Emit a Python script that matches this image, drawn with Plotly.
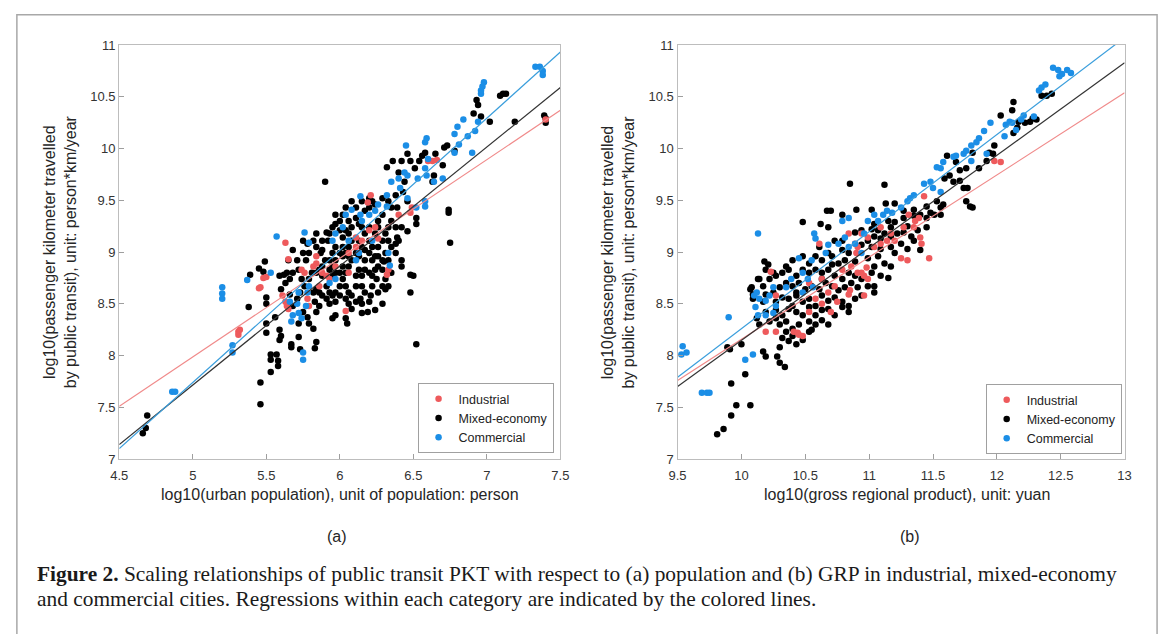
import plotly.graph_objects as go

# ---------------- data ----------------
# Panel (a): x = log10(urban population), y = log10(PKT)
a_industrial = [
    (5.31, 8.23), (5.31, 8.20), (5.32, 8.25), (5.46, 8.66), (5.45, 8.65), (5.48, 8.75),
    (5.50, 8.76), (5.63, 9.09), (5.65, 8.93), (5.61, 8.58), (5.63, 8.52), (5.64, 8.48),
    (5.65, 8.45), (5.74, 8.83), (5.76, 8.80), (5.82, 8.86), (5.84, 8.89), (5.88, 8.80),
    (5.91, 8.77), (5.97, 8.86), (6.04, 8.43), (6.06, 8.99), (6.11, 9.05), (6.15, 9.11),
    (6.20, 9.21), (6.21, 9.55), (6.19, 9.48), (6.24, 9.24), (6.26, 9.13), (6.33, 8.83),
    (6.32, 8.78), (6.40, 9.36), (6.48, 9.38), (6.49, 9.43), (6.60, 9.88), (6.63, 9.88),
    (6.66, 9.89), (7.40, 10.28), (5.78, 8.55), (5.79, 8.48), (5.86, 8.67), (5.93, 8.74),
    (5.84, 8.96), (6.06, 8.80), (6.11, 9.14),
]
a_mixed = [
    (4.66, 7.25), (4.68, 7.30), (4.69, 7.42), (5.46, 7.53), (5.46, 7.74), (5.53, 7.84),
    (5.53, 7.96), (5.53, 8.01), (5.57, 8.01), (5.58, 7.95), (5.58, 7.90), (5.38, 8.47),
    (5.39, 8.78), (5.45, 8.84), (5.49, 8.91), (5.48, 8.81), (5.50, 8.56), (5.50, 8.50),
    (5.50, 8.31), (5.50, 8.22), (5.56, 8.37), (5.59, 8.25), (5.60, 8.19), (5.59, 8.15),
    (5.67, 8.11), (5.67, 8.08), (5.73, 8.06), (5.84, 8.13), (5.83, 8.07), (5.82, 8.26),
    (5.79, 8.31), (5.72, 8.18), (5.72, 8.31), (5.90, 9.68), (6.52, 8.11), (6.74, 9.41),
    (6.74, 9.38), (6.75, 9.09), (6.48, 8.78), (6.50, 8.77), (6.48, 8.61), (6.42, 8.86),
    (7.02, 10.26), (7.19, 10.26), (7.09, 10.51), (7.11, 10.53), (7.13, 10.53), (6.93, 10.47),
    (6.94, 10.42), (6.91, 10.34), (6.96, 10.31), (7.39, 10.32), (7.40, 10.29), (7.40, 10.25),
    (6.73, 10.03), (6.71, 10.01), (6.78, 9.98), (6.65, 9.95), (6.58, 9.96), (6.56, 9.93),
    (6.46, 9.95), (6.48, 9.88), (6.42, 9.88), (6.36, 9.88), (6.32, 9.82), (6.40, 9.77),
    (6.44, 9.68), (6.51, 9.81), (6.54, 9.88), (6.70, 9.84), (6.63, 9.68), (6.64, 9.74),
    (6.43, 9.58), (6.52, 9.33), (6.52, 9.27), (6.46, 9.20), (6.46, 9.49), (6.42, 8.92),
    (6.29, 8.50), (6.24, 8.44), (6.19, 8.42), (6.15, 8.41), (6.08, 8.45), (6.05, 8.31),
    (6.04, 8.36), (5.95, 8.36), (5.97, 8.39), (6.14, 8.55), (6.21, 8.58), (6.26, 8.61),
    (6.22, 8.67), (6.29, 8.67), (6.31, 8.74), (6.35, 8.80), (5.84, 9.18), (5.83, 8.52),
    (5.86, 8.48), (5.84, 8.42), (5.78, 8.37), (5.75, 8.42), (5.66, 8.59), (5.60, 8.64),
    (5.59, 8.77), (5.62, 8.78), (5.63, 8.70), (5.68, 8.80), (5.68, 9.02), (5.71, 8.92),
    (5.74, 8.74), (5.77, 8.92), (5.79, 8.99), (5.81, 8.80), (5.84, 9.05), (5.87, 8.99),
    (5.88, 9.11), (5.91, 9.19), (5.93, 9.18), (5.95, 8.99), (5.97, 8.92), (5.93, 8.92),
    (5.90, 8.92), (5.88, 8.86), (5.93, 8.83), (5.91, 8.67), (5.93, 8.61), (5.95, 8.58),
    (5.97, 8.61), (6.00, 8.67), (6.02, 8.74), (6.04, 8.80), (6.04, 8.67), (6.06, 8.61),
    (6.08, 8.58), (6.11, 8.67), (6.11, 8.77), (6.13, 8.83), (6.15, 8.77), (6.17, 8.83),
    (6.20, 8.80), (6.15, 8.67), (6.17, 8.61), (6.22, 8.77), (6.24, 8.83), (6.26, 8.86),
    (6.29, 8.83), (6.24, 8.96), (6.20, 8.99), (6.17, 8.92), (6.13, 8.96), (6.08, 8.92),
    (6.06, 8.86), (6.02, 8.86), (6.00, 8.80), (5.97, 8.80), (5.95, 8.77), (6.00, 8.99),
    (6.02, 9.05), (6.04, 8.99), (6.06, 9.05), (6.08, 9.11), (6.06, 9.18), (6.02, 9.14),
    (6.00, 9.21), (5.97, 9.27), (6.00, 9.30), (6.02, 9.36), (6.06, 9.30), (6.11, 9.43),
    (6.11, 9.33), (6.15, 9.24), (6.17, 9.18), (6.20, 9.11), (6.22, 9.05), (6.26, 9.05),
    (6.29, 9.11), (6.31, 9.18), (6.33, 9.24), (6.35, 9.30), (6.38, 9.24), (6.39, 9.14),
    (6.38, 9.08), (6.35, 9.05), (6.33, 9.11), (6.38, 8.99), (6.39, 9.43), (6.35, 9.43),
    (6.29, 9.36), (6.26, 9.30), (6.24, 9.46), (6.29, 9.52), (6.22, 9.49), (6.20, 9.43),
    (6.17, 9.40), (6.13, 9.27), (6.08, 9.24), (6.04, 9.21), (6.24, 9.18), (6.20, 9.24),
    (6.26, 9.24), (6.31, 8.99), (6.33, 8.92), (6.30, 8.91), (6.25, 8.74), (6.20, 8.52),
    (6.15, 8.50), (6.11, 8.52), (6.06, 8.50), (6.04, 8.55), (6.00, 8.58), (5.97, 8.52),
    (5.93, 8.50), (5.91, 8.55), (5.88, 8.58), (5.86, 8.61), (5.84, 8.64), (5.82, 8.61),
    (5.79, 8.74), (5.76, 8.67), (5.73, 8.61), (5.71, 8.55), (5.68, 8.48), (5.66, 8.74),
    (5.64, 8.80), (5.65, 8.92), (5.72, 8.83), (5.75, 8.99), (5.78, 9.08), (5.92, 9.11),
    (5.95, 9.24), (5.97, 9.36), (6.04, 9.43), (6.08, 9.49), (6.15, 9.49), (6.20, 9.52),
    (6.33, 9.49), (6.38, 9.55), (6.42, 9.24), (6.40, 9.11), (5.88, 9.02), (5.82, 9.11),
    (5.75, 9.11), (5.88, 8.77), (5.86, 8.83), (5.84, 8.80), (5.97, 9.05), (5.95, 8.86),
    (6.13, 9.11), (6.15, 9.05), (6.17, 9.02), (6.11, 8.99), (6.06, 8.96), (6.02, 8.96),
    (6.22, 8.92), (6.26, 8.96), (6.29, 8.92), (6.31, 8.64), (6.33, 8.67),
]
a_commercial = [
    (5.20, 8.66), (5.20, 8.60), (5.20, 8.55), (4.86, 7.65), (4.88, 7.65), (5.27, 8.10),
    (5.27, 8.03), (5.37, 8.73), (5.57, 9.15), (5.76, 9.19), (5.79, 9.09), (5.75, 8.03),
    (5.75, 7.96), (5.53, 8.80), (5.67, 8.33), (5.68, 8.39), (5.72, 8.41), (5.74, 8.36),
    (5.71, 8.50), (5.66, 8.52), (5.79, 8.67), (5.78, 8.61), (5.93, 8.70), (5.97, 8.74),
    (6.04, 9.36), (6.08, 9.41), (6.14, 9.54), (6.15, 9.30), (6.20, 9.36), (6.24, 9.40),
    (6.26, 9.46), (6.32, 9.55), (6.35, 9.68), (6.40, 9.71), (6.41, 9.62), (6.44, 9.77),
    (6.46, 9.74), (6.45, 10.03), (6.53, 9.71), (6.58, 9.81), (6.59, 9.74), (6.60, 9.90),
    (6.58, 10.06), (6.59, 10.10), (6.64, 9.68), (6.70, 9.71), (6.78, 9.96), (6.78, 10.14),
    (6.80, 10.21), (6.84, 10.28), (6.81, 10.04), (6.87, 10.12), (6.90, 9.96), (6.92, 10.17),
    (6.94, 10.26), (6.96, 10.56), (6.97, 10.60), (6.98, 10.64), (6.96, 10.53), (7.33, 10.79),
    (7.36, 10.79), (7.38, 10.75), (7.38, 10.71), (6.33, 8.99), (6.34, 8.87), (6.46, 9.52),
    (6.52, 9.43), (6.58, 9.49), (6.58, 9.44), (5.95, 9.11), (5.97, 9.18), (6.02, 9.24),
    (6.06, 9.11), (6.11, 8.92), (6.13, 8.99), (5.77, 8.48), (5.72, 8.61), (6.14, 9.36),
    (6.32, 9.44), (6.22, 9.11),
]

# Panel (b): x = log10(gross regional product), y = log10(PKT)
b_industrial = [
    (10.19, 8.23), (10.27, 8.23), (10.41, 8.23), (10.44, 8.22), (10.48, 8.19), (10.45, 8.20),
    (10.23, 8.81), (10.27, 8.58), (10.53, 8.42), (10.58, 8.55), (10.63, 8.50), (10.70, 8.42),
    (10.75, 8.52), (10.84, 8.59), (10.85, 8.63), (10.91, 8.80), (10.94, 8.80), (10.96, 8.77),
    (10.99, 8.74), (10.98, 8.85), (10.96, 8.58), (10.79, 8.83), (10.86, 8.86), (10.90, 8.99),
    (10.89, 9.08), (10.91, 9.05), (10.94, 9.18), (10.84, 9.18), (11.04, 9.05), (11.09, 9.08),
    (11.14, 9.11), (11.20, 9.11), (11.25, 8.94), (11.30, 8.92), (11.36, 9.30), (11.39, 9.33),
    (11.40, 9.14), (11.41, 9.08), (11.43, 9.54), (11.47, 8.94), (11.31, 9.36), (11.35, 9.24),
    (11.98, 9.88), (12.03, 9.87), (10.61, 9.08), (10.63, 8.74), (10.68, 8.61), (10.73, 8.67),
    (10.53, 8.70), (11.09, 9.24), (11.17, 9.18), (11.27, 9.24), (10.99, 9.14),
]
b_mixed = [
    (9.81, 7.24), (9.86, 7.29), (9.92, 7.42), (9.96, 7.52), (10.07, 7.52), (9.92, 7.73),
    (10.03, 7.82), (9.89, 8.08), (9.91, 8.06), (10.00, 8.11), (10.17, 8.04), (10.19, 7.99),
    (10.28, 7.99), (10.30, 7.93), (10.34, 7.89), (10.13, 8.74), (10.08, 8.66), (10.09, 8.59),
    (10.18, 8.91), (10.21, 8.88), (10.25, 8.80), (10.48, 9.29), (10.62, 9.27), (10.68, 9.24),
    (10.67, 9.40), (10.70, 9.40), (10.79, 9.36), (10.85, 9.66), (10.90, 9.41), (11.02, 9.41),
    (11.12, 9.65), (11.13, 9.47), (11.20, 9.47), (11.76, 9.49), (11.79, 9.44), (11.81, 9.43),
    (11.74, 9.62), (11.77, 9.62), (11.98, 10.03), (11.97, 9.95), (12.03, 10.32), (12.13, 10.45),
    (12.12, 10.37), (12.17, 10.26), (12.22, 10.25), (12.26, 10.26), (12.28, 10.29), (12.31, 10.28),
    (12.35, 10.51), (12.39, 10.51), (12.43, 10.53), (12.13, 10.15), (12.16, 10.20), (11.61, 9.93),
    (11.68, 9.87), (11.71, 9.79), (11.76, 9.81), (11.71, 9.69), (11.81, 9.96), (11.86, 9.81),
    (11.92, 9.88), (11.94, 9.96), (11.63, 9.74), (11.59, 9.71), (11.66, 9.68),
    (11.27, 9.40), (11.35, 9.41), (11.45, 9.44), (11.53, 9.49), (11.56, 9.43), (11.58, 9.46),
    (11.48, 9.38), (11.40, 9.36), (11.04, 9.27), (11.15, 9.30), (11.20, 9.29), (11.27, 9.33),
    (11.35, 9.35), (11.45, 9.33), (11.51, 9.36), (11.56, 9.36), (11.17, 9.24), (11.30, 9.25),
    (10.89, 9.19), (10.94, 9.21), (11.02, 9.22), (11.07, 9.21), (11.12, 9.18), (11.17, 9.15),
    (11.22, 9.18), (11.27, 9.19), (11.33, 9.15), (11.38, 9.21), (11.45, 9.24), (11.09, 9.13),
    (10.99, 9.11), (11.04, 9.15), (10.61, 9.05), (10.68, 8.99), (10.73, 9.11), (10.79, 9.02),
    (10.84, 8.99), (10.94, 9.07), (11.02, 9.05), (11.09, 9.03), (11.17, 9.05), (11.25, 9.08),
    (11.30, 9.03), (11.35, 9.11), (11.40, 9.02), (11.20, 8.99), (10.79, 9.11), (10.35, 8.86),
    (10.40, 8.92), (10.48, 8.96), (10.53, 8.89), (10.58, 8.96), (10.63, 8.92), (10.71, 8.96),
    (10.76, 8.89), (10.81, 8.92), (10.89, 8.91), (10.99, 8.94), (11.07, 8.96), (11.12, 8.89),
    (11.17, 8.86), (11.04, 8.86), (10.71, 8.88), (10.19, 8.83), (10.27, 8.77), (10.32, 8.80),
    (10.37, 8.83), (10.43, 8.77), (10.48, 8.83), (10.53, 8.80), (10.58, 8.83), (10.63, 8.80),
    (10.68, 8.83), (10.73, 8.77), (10.84, 8.80), (10.89, 8.77), (10.94, 8.74), (11.02, 8.80),
    (11.09, 8.77), (11.15, 8.75), (10.79, 8.74), (10.22, 8.74), (10.14, 8.74), (10.07, 8.64),
    (10.17, 8.67), (10.25, 8.61), (10.30, 8.66), (10.35, 8.70), (10.40, 8.67), (10.45, 8.70),
    (10.50, 8.64), (10.55, 8.67), (10.61, 8.64), (10.66, 8.70), (10.71, 8.67), (10.76, 8.63),
    (10.81, 8.66), (10.86, 8.70), (10.91, 8.66), (10.99, 8.67), (11.04, 8.67), (10.43, 8.61),
    (10.63, 8.74), (10.09, 8.55), (10.17, 8.52), (10.27, 8.52), (10.32, 8.56), (10.37, 8.55),
    (10.43, 8.58), (10.48, 8.52), (10.53, 8.55), (10.58, 8.48), (10.63, 8.58), (10.68, 8.53),
    (10.73, 8.56), (10.79, 8.52), (10.84, 8.48), (10.89, 8.55), (10.94, 8.58), (11.04, 8.61),
    (10.19, 8.59), (10.40, 8.48), (10.12, 8.36), (10.19, 8.42), (10.27, 8.44), (10.32, 8.39),
    (10.37, 8.45), (10.43, 8.42), (10.48, 8.39), (10.53, 8.47), (10.58, 8.39), (10.63, 8.44),
    (10.68, 8.45), (10.73, 8.39), (10.79, 8.47), (10.84, 8.42), (10.27, 8.36), (10.14, 8.30),
    (10.22, 8.33), (10.30, 8.30), (10.35, 8.33), (10.40, 8.26), (10.45, 8.30), (10.53, 8.33),
    (10.58, 8.30), (10.63, 8.34), (10.68, 8.30), (10.35, 8.23), (10.32, 8.17), (10.37, 8.14),
    (10.43, 8.11), (10.48, 8.15), (10.53, 8.23), (10.55, 8.25), (10.30, 8.08), (10.40, 8.19),
]
b_commercial = [
    (9.54, 8.09), (9.57, 8.03), (9.53, 8.01), (9.69, 7.64), (9.73, 7.64), (9.75, 7.64),
    (9.90, 8.37), (10.03, 7.96), (10.09, 8.01), (10.13, 9.18), (10.10, 8.58), (10.12, 8.61),
    (10.14, 8.55), (10.11, 8.47), (10.19, 8.53), (10.13, 8.39), (10.19, 8.39), (10.25, 8.41),
    (10.27, 8.48), (10.22, 8.58), (10.25, 8.66), (10.35, 8.66), (10.39, 8.74), (10.45, 8.94),
    (10.48, 8.80), (10.55, 8.92), (10.57, 9.18), (10.58, 9.13), (10.52, 8.74), (10.56, 8.66),
    (10.66, 8.99), (10.68, 9.07), (10.76, 9.08), (10.81, 9.14), (10.84, 9.05), (10.89, 9.08),
    (10.94, 8.99), (10.96, 9.18), (10.99, 9.30), (11.04, 9.36), (11.07, 9.30), (11.11, 9.36),
    (11.14, 9.40), (11.18, 9.38), (11.25, 9.43), (11.30, 9.49), (11.32, 9.52), (11.35, 9.55),
    (11.43, 9.66), (11.48, 9.68), (11.50, 9.62), (11.56, 9.58), (11.53, 9.82), (11.56, 9.81),
    (11.58, 9.87), (11.66, 9.92), (11.68, 9.93), (11.74, 9.95), (11.76, 9.98), (11.80, 10.03),
    (11.84, 10.06), (11.86, 10.10), (11.90, 10.17), (11.95, 10.25), (11.92, 9.95), (11.80, 9.88),
    (12.07, 10.23), (12.10, 10.26), (12.12, 10.25), (12.19, 10.28), (12.15, 10.18), (12.06, 10.12),
    (12.21, 10.32), (12.29, 10.31), (12.33, 10.56), (12.35, 10.59), (12.38, 10.62), (12.44, 10.78),
    (12.48, 10.76), (12.51, 10.72), (12.55, 10.76), (12.58, 10.73), (12.49, 10.70), (10.79, 9.30),
    (10.84, 9.33), (10.48, 8.61),
]

# Regression lines within each category: (slope, intercept)
fit_a = {"Industrial": (0.953, 3.222), "Mixed-economy": (1.150, 1.965), "Commercial": (1.277, 1.355)}
fit_b = {"Industrial": (0.794, 0.217), "Mixed-economy": (0.894, -0.793), "Commercial": (0.938, -1.121)}

x_range_a = [4.5, 7.5]
x_range_b = [9.5, 13.0]
y_range = [7.0, 11.0]

categories = ["Industrial", "Mixed-economy", "Commercial"]
dot_colors = {"Industrial": "#EE5A5C", "Mixed-economy": "#000000", "Commercial": "#1B8EE6"}
line_colors = {"Industrial": "#F08A8A", "Mixed-economy": "#333333", "Commercial": "#3A9EDC"}

W, H = 1171, 634

def px(v):
    return v / W

def py(v):
    return 1 - v / H

fig = go.Figure()

panels = [
    ("x", "y", "legend", {"Industrial": a_industrial, "Mixed-economy": a_mixed, "Commercial": a_commercial}, fit_a, x_range_a),
    ("x2", "y2", "legend2", {"Industrial": b_industrial, "Mixed-economy": b_mixed, "Commercial": b_commercial}, fit_b, x_range_b),
]

draw_order = ["Mixed-economy", "Industrial", "Commercial"]
rank = {c: i for i, c in enumerate(categories)}

for xa, ya, leg, sets, fits, xr in panels:
    for cat in draw_order:
        pts = sets[cat]
        fig.add_trace(go.Scatter(
            x=[p[0] for p in pts], y=[p[1] for p in pts], mode="markers",
            marker=dict(color=dot_colors[cat], size=6.5, line=dict(width=0)),
            name=cat, xaxis=xa, yaxis=ya, legend=leg, legendrank=rank[cat] + 1,
            showlegend=True, hoverinfo="skip",
        ))
    for cat in categories:
        s, b = fits[cat]
        fig.add_trace(go.Scatter(
            x=xr, y=[s * xr[0] + b, s * xr[1] + b], mode="lines",
            line=dict(color=line_colors[cat], width=1.2),
            xaxis=xa, yaxis=ya, showlegend=False, hoverinfo="skip",
        ))

axis_common = dict(
    showgrid=False, zeroline=False, showline=True, mirror=True,
    linecolor="#BDBDBD", linewidth=1.3, ticks="inside", ticklen=5, tickwidth=1,
    tickcolor="#9E9E9E", tickfont=dict(family="Liberation Sans", size=13, color="#333333"),
)

fig.update_layout(
    width=W, height=H, autosize=False,
    margin=dict(l=0, r=0, t=0, b=0),
    paper_bgcolor="white", plot_bgcolor="white",
    xaxis=dict(domain=[px(112), px(560)], range=x_range_a, dtick=0.5, anchor="y",
               ticklabelstandoff=4, **axis_common),
    yaxis=dict(domain=[py(463), py(39)], range=y_range, dtick=0.5, anchor="x", **axis_common),
    xaxis2=dict(domain=[px(679), px(1133)], range=x_range_b, dtick=0.5, anchor="y2",
                ticklabelstandoff=4, **axis_common),
    yaxis2=dict(domain=[py(463), py(39)], range=y_range, dtick=0.5, anchor="x2", **axis_common),
    legend=dict(x=px(484), y=py(421), xanchor="center", yanchor="middle",
                bgcolor="white", bordercolor="#A0A0A0", borderwidth=1,
                font=dict(family="Liberation Sans", size=12.5, color="#222222"),
                itemwidth=30, tracegroupgap=0),
    legend2=dict(x=px(1061), y=py(422), xanchor="center", yanchor="middle",
                 bgcolor="white", bordercolor="#A0A0A0", borderwidth=1,
                 font=dict(family="Liberation Sans", size=12.5, color="#222222"),
                 itemwidth=30, tracegroupgap=0),
    showlegend=True,
)

ylab = "log10(passenger kilometer travelled<br>by public transit), unit: person*km/year"
label_font = dict(family="Liberation Sans", size=16, color="#262626")
caption_font = dict(family="Liberation Serif", size=21.4, color="#1A1A1A")
annos = [
    dict(x=px(52), y=py(251), text=ylab, textangle=-90, font=label_font),
    dict(x=px(619), y=py(251), text=ylab, textangle=-90, font=label_font),
    dict(x=px(336), y=py(499), text="log10(urban population), unit of population: person", font=label_font),
    dict(x=px(912), y=py(499), text="log10(gross regional product), unit: yuan", font=label_font),
    dict(x=px(333), y=py(542), text="(a)", font=label_font),
    dict(x=px(915), y=py(542), text="(b)", font=label_font),
    dict(x=px(26), y=py(581), xanchor="left", align="left",
         text="<b>Figure 2.</b> Scaling relationships of public transit PKT with respect to (a) population and (b) GRP in industrial, mixed-economy",
         font=caption_font),
    dict(x=px(26), y=py(606), xanchor="left", align="left",
         text="and commercial cities. Regressions within each category are indicated by the colored lines.",
         font=caption_font),
]
for a in annos:
    a.setdefault("xanchor", "center")
    a.setdefault("yanchor", "middle")
    a.update(xref="paper", yref="paper", showarrow=False)
fig.update_layout(annotations=annos)

# outer frame of the figure panel
fig.add_shape(type="rect", xref="paper", yref="paper",
              x0=px(8), x1=px(1166), y0=-0.05, y1=py(8),
              line=dict(color="#A8A8A8", width=1.5), fillcolor="rgba(0,0,0,0)", layer="below")

fig.write_html("out.html")
